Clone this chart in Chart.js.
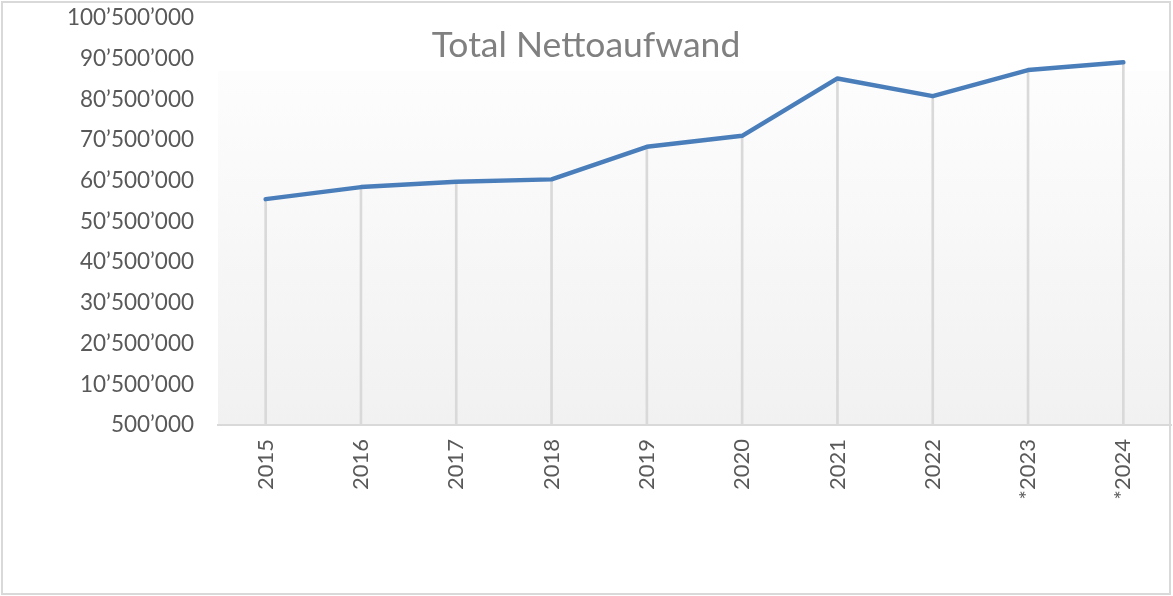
<!DOCTYPE html>
<html lang="de">
<head>
  <meta charset="UTF-8">
  <title>Total Nettoaufwand</title>
  <style>
    body {
      margin: 0;
      background: #ffffff;
      font-family: Lato, "Open Sans", sans-serif;
    }
    .wrap {
      position: relative;
      width: 1173px;
      height: 596px;
    }
    .frame {
      position: absolute;
      left: 1px;
      top: 1px;
      width: 1166px;
      height: 590px;
      border: 2px solid #d9d9d9;
      pointer-events: none;
    }
  </style>
</head>
<body>
<div class="wrap">
  <canvas id="myChart" width="1173" height="596"></canvas>
  <div class="frame"></div>
</div>

<script src="https://cdn.jsdelivr.net/npm/chart.js"></script>
<script>
  const chartTitle = 'Total Nettoaufwand';
  const years = ['2015', '2016', '2017', '2018', '2019', '2020', '2021', '2022', '*2023', '*2024'];
  const nettoaufwand = [56000000, 58950000, 60250000, 60850000, 68850000, 71550000, 85650000, 81300000, 87700000, 89600000];
  const yMin = 500000;
  const yMax = 100500000;
  const yStep = 10000000;

  // Zahlen mit Apostroph als Tausendertrennzeichen
  function formatCH(v) {
    return String(Math.round(v)).replace(/\B(?=(\d{3})+(?!\d))/g, '\u2019');
  }

  // Hintergrund der Zeichenfläche mit leichtem Verlauf
  const plotBackground = {
    id: 'plotBackground',
    beforeDraw(chart) {
      const {ctx, chartArea} = chart;
      const top = 71;
      const g = ctx.createLinearGradient(0, top, 0, chartArea.bottom);
      g.addColorStop(0, '#fdfdfd');
      g.addColorStop(1, '#f1f1f1');
      ctx.save();
      ctx.fillStyle = g;
      ctx.fillRect(chartArea.left, top, chartArea.right - chartArea.left, chartArea.bottom - top);
      ctx.restore();
    }
  };

  // Titel über der Zeichenfläche
  const overlayTitle = {
    id: 'overlayTitle',
    afterDraw(chart) {
      const ctx = chart.ctx;
      ctx.save();
      ctx.font = '35.5px Lato, "Open Sans", sans-serif';
      ctx.fillStyle = '#808080';
      ctx.textAlign = 'center';
      ctx.textBaseline = 'alphabetic';
      ctx.fillText(chartTitle, 586, 57);
      ctx.restore();
    }
  };

  const ctx = document.getElementById('myChart').getContext('2d');
  new Chart(ctx, {
    type: 'line',
    data: {
      labels: years,
      datasets: [{
        label: chartTitle,
        data: nettoaufwand,
        borderColor: '#4a7ebb',
        borderWidth: 4.5,
        pointRadius: 0,
        tension: 0,
        borderCapStyle: 'round',
        borderJoinStyle: 'round',
        order: 0
      }, {
        // Senkrechte Linien von den Punkten zur Achse
        type: 'bar',
        label: 'drop',
        data: nettoaufwand,
        backgroundColor: '#d9d9d9',
        barThickness: 2,
        order: 1
      }]
    },
    options: {
      responsive: false,
      animation: false,
      layout: {
        padding: {left: 0, top: 18, right: 2, bottom: 0}
      },
      plugins: {
        legend: {display: false},
        tooltip: {enabled: false},
        title: {display: false}
      },
      scales: {
        x: {
          type: 'category',
          offset: true,
          grid: {display: false, drawTicks: false},
          border: {display: true, color: '#d9d9d9', width: 2},
          ticks: {
            minRotation: 90,
            maxRotation: 90,
            padding: 14,
            color: '#595959',
            font: {family: 'Lato, "Open Sans", sans-serif', size: 22}
          },
          afterFit(scale) {
            scale.height = 171;
            scale.paddingLeft = 0;
            scale.paddingRight = 0;
          }
        },
        y: {
          min: yMin,
          max: yMax,
          grid: {display: false, drawTicks: false},
          border: {display: false},
          ticks: {
            stepSize: yStep,
            padding: 24,
            color: '#595959',
            font: {family: 'Lato, "Open Sans", sans-serif', size: 22.5},
            callback: value => formatCH(value)
          },
          afterFit(scale) {
            scale.width = 218;
            scale.paddingTop = 0;
            scale.paddingBottom = 0;
          }
        }
      }
    },
    plugins: [plotBackground, overlayTitle]
  });
</script>
</body>
</html>
